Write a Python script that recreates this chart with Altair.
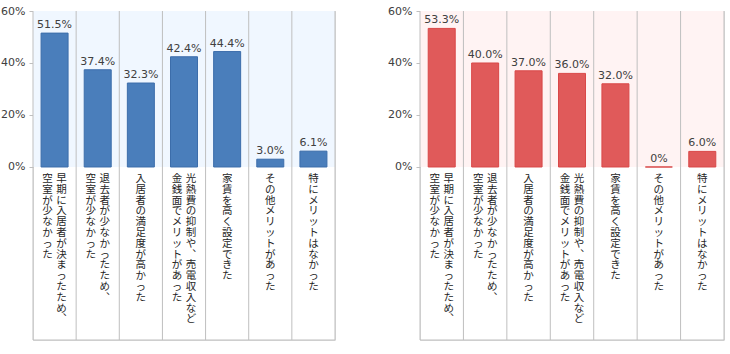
import altair as alt
import pandas as pd

# ---- data ----
categories = [
    "早期に入居者が決まったため、空室が少なかった",
    "退去者が少なかったため、空室が少なかった",
    "入居者の満足度が高かった",
    "光熱費の抑制や、売電収入など金銭面でメリットがあった",
    "家賃を高く設定できた",
    "その他メリットがあった",
    "特にメリットはなかった",
]
# how each label is broken into vertical columns (first column is the rightmost)
label_columns = [
    ["早期に入居者が決まったため、", "空室が少なかった"],
    ["退去者が少なかったため、", "空室が少なかった"],
    ["入居者の満足度が高かった"],
    ["光熱費の抑制や、売電収入など", "金銭面でメリットがあった"],
    ["家賃を高く設定できた"],
    ["その他メリットがあった"],
    ["特にメリットはなかった"],
]
values_left = [51.5, 37.4, 32.3, 42.4, 44.4, 3.0, 6.1]
values_right = [53.3, 40.0, 37.0, 36.0, 32.0, 0.0, 6.0]
y_ticks = [0, 20, 40, 60]

GRID = "#BFBFBF"
JP_FONT = "Noto Sans CJK JP"
NUM_FONT = "DejaVu Sans"


def vertical(s):
    # vertical (tategaki) text: one character per line
    return "\n".join(s.replace("、", "︑"))


label_rows = []
for cat, cols in zip(categories, label_columns):
    if len(cols) == 1:
        label_rows.append({"cat": cat, "pos": "single", "text": vertical(cols[0])})
    else:
        label_rows.append({"cat": cat, "pos": "right", "text": vertical(cols[0])})
        label_rows.append({"cat": cat, "pos": "left", "text": vertical(cols[1])})
labels_df = pd.DataFrame(label_rows)


def panel(values, fill, stroke, bg, width, height=329):
    df = pd.DataFrame({"cat": categories, "value": values})
    yscale = alt.Scale(domain=[-66.54, 60], nice=False, zero=False)
    yaxis = alt.Axis(values=y_ticks, labelExpr="datum.value + '%'", title=None,
                     domain=False, grid=False, tickSize=4, tickColor=GRID,
                     labelPadding=4, labelFont=NUM_FONT, labelFontSize=11,
                     labelColor="#404040")
    xscale = alt.Scale(paddingInner=0, paddingOuter=0)
    xenc = alt.X("cat:N", sort=categories, axis=None, scale=xscale)
    base = alt.Chart(df)

    background = alt.Chart(pd.DataFrame({"top": [max(y_ticks)], "bottom": [0]})).mark_rect(
        fill=bg
    ).encode(
        x=alt.value(0), x2=alt.value(width),
        y=alt.Y("top:Q", scale=yscale, axis=yaxis), y2="bottom:Q",
    )

    separators = base.mark_rule(color=GRID, strokeWidth=1).encode(
        x=alt.X("cat:N", sort=categories, axis=None, bandPosition=0, scale=xscale),
        y=alt.value(0), y2=alt.value(height),
    )
    right_border = base.mark_rule(color=GRID, strokeWidth=1).encode(
        x=alt.value(width), y=alt.value(0), y2=alt.value(height),
    ).transform_filter(alt.datum.cat == categories[0])
    bottom_border = base.mark_rule(color=GRID, strokeWidth=1).encode(
        x=alt.value(0), x2=alt.value(width), y=alt.value(height),
    ).transform_filter(alt.datum.cat == categories[0])

    bars = base.mark_bar(width=27, fill=fill, stroke=stroke, strokeWidth=1).encode(
        x=xenc,
        y=alt.Y("value:Q", scale=yscale, axis=yaxis),
    )
    value_labels = base.transform_calculate(
        label="datum.value == 0 ? '0%' : format(datum.value, '.1f') + '%'"
    ).mark_text(baseline="bottom", dy=-3, font=NUM_FONT, fontSize=11, color="#404040").encode(
        x=xenc, y=alt.Y("value:Q", scale=yscale), text="label:N",
    )

    text_layers = []
    for pos, dx in [("single", 0), ("right", 7), ("left", -7)]:
        text_layers.append(
            alt.Chart(labels_df).transform_filter(alt.datum.pos == pos).mark_text(
                baseline="top", align="center", dx=dx, dy=7, lineBreak="\n",
                lineHeight=10.8, font=JP_FONT, fontSize=10.5, color="#262626",
            ).encode(x=xenc, y=alt.datum(0), text="text:N")
        )

    return alt.layer(
        background, separators, right_border, bottom_border, bars, value_labels, *text_layers
    ).properties(width=width, height=height)


left = panel(values_left, "#4A7EBB", "#3C6DAA", "#F0F7FF", 302)
right = panel(values_right, "#E05A5A", "#D94848", "#FFF3F3", 304)

chart = alt.hconcat(left, right, spacing=51).properties(
    padding={"left": 0, "top": 4, "right": 0, "bottom": 0}
).configure_view(stroke=None).configure(background="white")

chart.save("out.html", embed_options={"renderer": "svg", "actions": False})
